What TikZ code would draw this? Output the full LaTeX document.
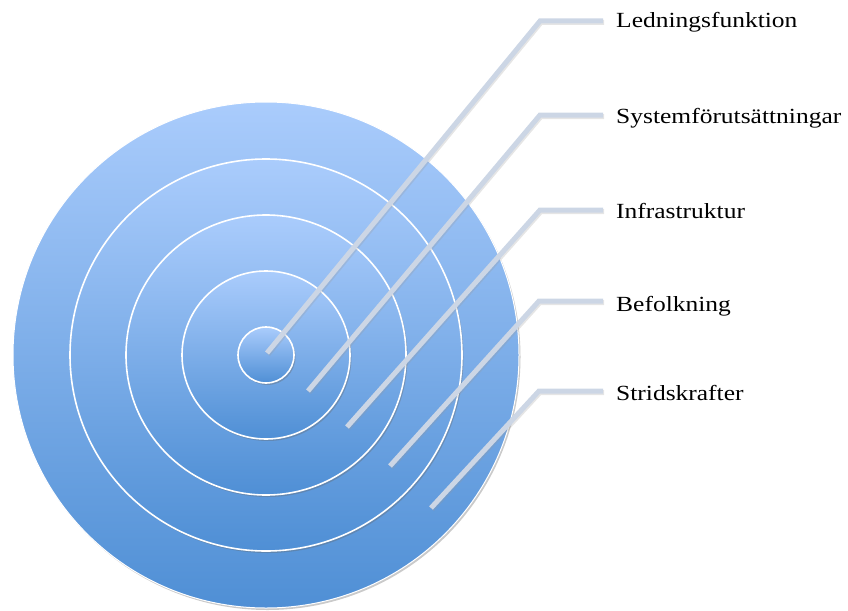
\documentclass[tikz,border=0pt]{standalone}
\usepackage{fontspec}
\setmainfont{Liberation Serif}[FakeStretch=1.18]
\usetikzlibrary{shadows}
\definecolor{ctop}{HTML}{AACCFC}
\definecolor{cbot}{HTML}{4F8FD5}
\definecolor{leader}{HTML}{CCD6E5}
\tikzset{
  ring/.style={circle, draw=white, line width=1.6pt, top color=ctop, bottom color=cbot, inner sep=0pt,
    drop shadow={shadow xshift=1.5pt, shadow yshift=-2pt, opacity=0.35, fill=black!60}},
  outerring/.style={ring, line width=1pt},
  leaderline/.style={draw=leader, line width=5pt, line cap=butt, line join=miter,
    preaction={draw=black!40, opacity=0.25, line width=5pt, transform canvas={xshift=1pt, yshift=-1.5pt}}},
  lbl/.style={anchor=base west, inner sep=0pt, font=\fontsize{21.6}{24}\selectfont}
}
\begin{document}
\begin{tikzpicture}[x=1pt, y=-1pt]
\useasboundingbox (0,0) rectangle (848,610);
\node[outerring, minimum size=506pt] (c5) at (266,355) {};
\node[ring, minimum size=392pt] (c4) at (266,355) {};
\node[ring, minimum size=280pt] (c3) at (266,355) {};
\node[ring, minimum size=168pt] (c2) at (266,355) {};
\node[ring, minimum size=56pt] (c1) at (266,355) {};

\coordinate (s1) at (267,353);
\coordinate (s2) at (308,391);
\coordinate (s3) at (347,427);
\coordinate (s4) at (390,466);
\coordinate (s5) at (431,508);

\coordinate (e1) at (540,21);
\coordinate (e2) at (540,115);
\coordinate (e3) at (540,210);
\coordinate (e4) at (539,301);
\coordinate (e5) at (539,391);

\node[lbl] (l1) at (616,28) {Ledningsfunktion};
\node[lbl] (l2) at (616,123) {Systemförutsättningar};
\node[lbl] (l3) at (616,218) {Infrastruktur};
\node[lbl] (l4) at (616,311) {Befolkning};
\node[lbl] (l5) at (616,400) {Stridskrafter};

\draw[leaderline] (s1) -- (e1) -- (e1 -| 603,0);
\draw[leaderline] (s2) -- (e2) -- (e2 -| 603,0);
\draw[leaderline] (s3) -- (e3) -- (e3 -| 603,0);
\draw[leaderline] (s4) -- (e4) -- (e4 -| 603,0);
\draw[leaderline] (s5) -- (e5) -- (e5 -| 603,0);
\end{tikzpicture}
\end{document}
